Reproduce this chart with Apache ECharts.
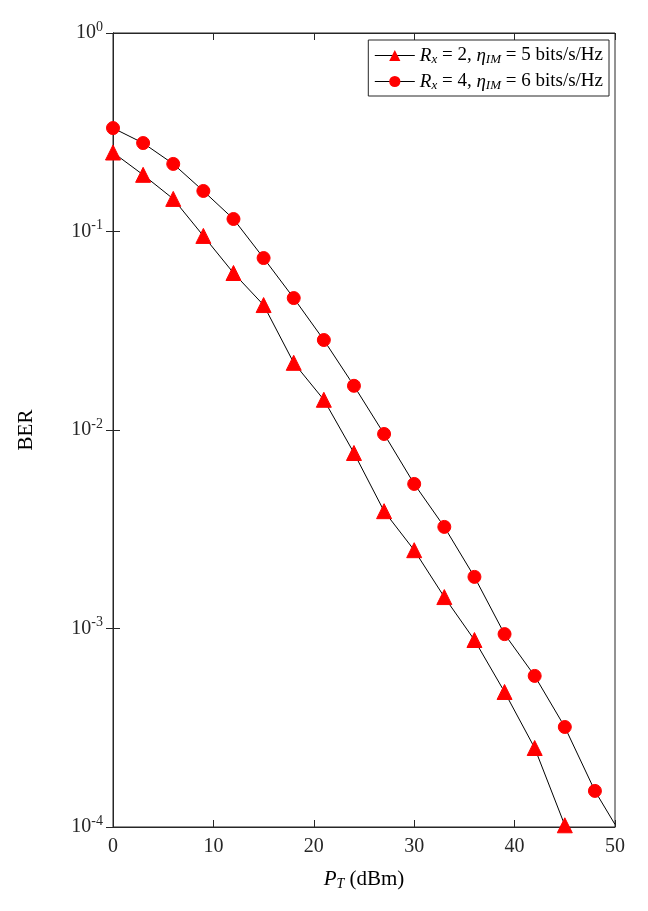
<!DOCTYPE html>
<html><head><meta charset="utf-8">
<script src="https://cdn.jsdelivr.net/npm/echarts@6/dist/echarts.min.js"></script>
<style>html,body{margin:0;padding:0;background:#fff}#c{width:648px;height:911px}</style>
</head><body><div id="c"></div>
<script>
const xTri = [0,3,6,9,12,15,18,21,24,27,30,33,36,39,42,45,48];
const berTri = [0.25,0.193,0.146,0.095,0.0618,0.0426,0.0218,0.0142,0.00766,0.0039,0.00248,0.00144,0.000875,0.000479,0.00025,0.000102,0.00004];
const xCir = [0,3,6,9,12,15,18,21,24,27,30,33,36,39,42,45,48,50];
const berCir = [0.332,0.279,0.219,0.16,0.1156,0.0735,0.0462,0.0284,0.0167,0.00955,0.00535,0.00325,0.00182,0.000937,0.000577,0.000319,0.000152,0.000103];
const yTickExp = ['0','-1','-2','-3','-4'];
const F = 'Liberation Serif';
const chart = echarts.init(document.getElementById('c'));
function pts(xs, ys, lastNone){
  return xs.map((x,i)=>{
    const p = {value:[x, ys[i]]};
    if (i >= lastNone) p.symbol = 'none';
    return p;
  });
}
const tickStyle = {show:true, inside:true, length:7, lineStyle:{color:'#262626'}};
chart.setOption({
  animation:false,
  grid:{left:113,right:33,top:33,bottom:84,show:true,borderColor:'#262626',borderWidth:1,backgroundColor:'transparent'},
  legend:{
    top:40,right:39,orient:'vertical',
    backgroundColor:'#fff',borderColor:'#262626',borderWidth:1,padding:[6,6,4,6],
    itemWidth:40,itemHeight:14,itemGap:6,
    lineStyle:{width:1,color:'#000'},
    textStyle:{fontFamily:F,fontSize:19,color:'#000',
      rich:{i:{fontFamily:F,fontStyle:'italic',fontSize:19},s:{fontFamily:F,fontStyle:'italic',fontSize:13,padding:[8,0,0,0]},n:{fontFamily:F,fontSize:19}}},
    formatter:function(name){
      return name==='a' ? '{i|R}{s|x}{n| = 2, }{i|η}{s|IM}{n| = 5 bits/s/Hz}'
                        : '{i|R}{s|x}{n| = 4, }{i|η}{s|IM}{n| = 6 bits/s/Hz}';
    }
  },
  xAxis:[{type:'value',min:0,max:50,interval:10,
    name:'{i|P}{s|T}{n| (dBm)}',nameLocation:'middle',nameGap:40,
    nameTextStyle:{fontFamily:F,fontSize:21,color:'#000',rich:{i:{fontFamily:F,fontStyle:'italic',fontSize:21},s:{fontFamily:F,fontStyle:'italic',fontSize:14,padding:[10,0,0,0]},n:{fontFamily:F,fontSize:21}}},
    axisLine:{lineStyle:{color:'#262626'}},axisTick:tickStyle,splitLine:{show:false},
    axisLabel:{fontFamily:F,fontSize:20,color:'#262626',margin:10}},
    {type:'value',position:'top',min:0,max:50,interval:10,axisLine:{lineStyle:{color:'#262626'}},axisTick:tickStyle,axisLabel:{show:false},splitLine:{show:false}}],
  yAxis:[{type:'log',min:1e-4,max:1,logBase:10,
    name:'BER',nameLocation:'middle',nameGap:76,
    nameTextStyle:{fontFamily:F,fontSize:21,color:'#000'},
    axisLine:{lineStyle:{color:'#262626'}},axisTick:tickStyle,splitLine:{show:false},
    axisLabel:{fontFamily:F,fontSize:20,color:'#262626',margin:10,
      rich:{b:{fontFamily:F,fontSize:20,color:'#262626'},e:{fontFamily:F,fontSize:14,color:'#262626',padding:[0,0,12,0]}},
      formatter:function(v){const e=Math.round(Math.log10(v));return yTickExp.includes(String(e))?'{b|10}{e|'+e+'}':'';}}},
    {type:'log',min:1e-4,max:1,logBase:10,position:'right',axisLine:{show:true,lineStyle:{color:'#262626'}},axisTick:tickStyle,axisLabel:{show:false},splitLine:{show:false}}],
  series:[
    {name:'a',type:'line',clip:true,data:pts(xTri,berTri,16),symbol:'triangle',symbolSize:15,
      lineStyle:{color:'#000',width:1},itemStyle:{color:'#ff0000',borderColor:'#ff0000'}},
    {name:'b',type:'line',clip:true,data:pts(xCir,berCir,17),symbol:'circle',symbolSize:13,
      lineStyle:{color:'#000',width:1},itemStyle:{color:'#ff0000',borderColor:'#ff0000'}}
  ]
});
</script></body></html>
